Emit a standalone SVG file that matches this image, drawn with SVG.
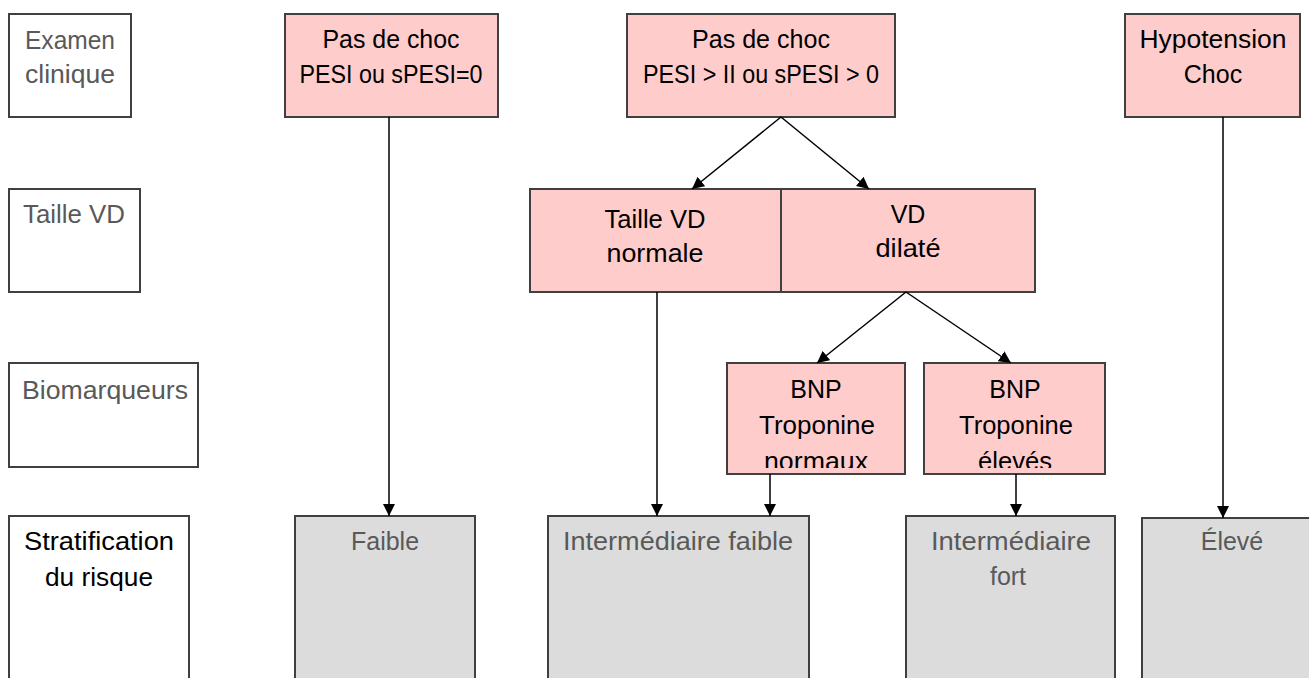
<svg xmlns="http://www.w3.org/2000/svg" width="1309" height="678" viewBox="0 0 1309 678">
<style>
  text { font-family: "Liberation Sans", Arial, sans-serif; font-size: 25px; text-anchor: middle; }
  .lbl rect { fill: #ffffff; stroke: #404040; stroke-width: 2; }
  .pink rect { fill: #ffcccc; stroke: #404040; stroke-width: 2; }
  .grey rect { fill: #dcdcdc; stroke: #404040; stroke-width: 2; }
  .g { fill: #595959; }
  .k { fill: #000000; }
  .conn line { stroke: #000000; stroke-width: 1.5; fill: none; marker-end: url(#arr); }
</style>
<defs>
  <marker id="arr" markerUnits="userSpaceOnUse" markerWidth="12" markerHeight="12" viewBox="0 0 12 12" refX="12" refY="6" orient="auto">
    <path d="M0,0 L12,6 L0,12 z" fill="#000000"/>
  </marker>
  <clipPath id="clipA"><rect x="727" y="363" width="178" height="105"/></clipPath>
  <clipPath id="clipB"><rect x="924" y="363" width="181" height="105"/></clipPath>
</defs>
<rect x="0" y="0" width="1309" height="678" fill="#ffffff"/>

<g id="lbl-examen" class="lbl">
  <rect x="9" y="14" width="122" height="103"/>
  <text x="70" y="49" class="g" textLength="90" lengthAdjust="spacingAndGlyphs">Examen</text>
  <text x="70" y="83" class="g" textLength="90" lengthAdjust="spacingAndGlyphs">clinique</text>
</g>
<g id="lbl-taille" class="lbl">
  <rect x="9" y="189" width="131" height="103"/>
  <text x="74" y="223" class="g" textLength="102" lengthAdjust="spacingAndGlyphs">Taille VD</text>
</g>
<g id="lbl-bio" class="lbl">
  <rect x="9" y="363" width="189" height="104"/>
  <text x="105" y="399" class="g" textLength="166" lengthAdjust="spacingAndGlyphs">Biomarqueurs</text>
</g>
<g id="lbl-strat" class="lbl">
  <rect x="9" y="516" width="180" height="180"/>
  <text x="99" y="550" class="k" textLength="150" lengthAdjust="spacingAndGlyphs">Stratification</text>
  <text x="99" y="586" class="k" textLength="108" lengthAdjust="spacingAndGlyphs">du risque</text>
</g>

<g id="n-pas1" class="pink">
  <rect x="285" y="14" width="213" height="103"/>
  <text x="391" y="48" class="k" textLength="137" lengthAdjust="spacingAndGlyphs">Pas de choc</text>
  <text x="391" y="83" class="k" textLength="183" lengthAdjust="spacingAndGlyphs">PESI ou sPESI=0</text>
</g>
<g id="n-pas2" class="pink">
  <rect x="627" y="14" width="268" height="103"/>
  <text x="761" y="48" class="k" textLength="138" lengthAdjust="spacingAndGlyphs">Pas de choc</text>
  <text x="761" y="83" class="k" textLength="236" lengthAdjust="spacingAndGlyphs">PESI &gt; II ou sPESI &gt; 0</text>
</g>
<g id="n-hypo" class="pink">
  <rect x="1125" y="14" width="175" height="103"/>
  <text x="1213" y="48" class="k" textLength="147" lengthAdjust="spacingAndGlyphs">Hypotension</text>
  <text x="1213" y="83" class="k">Choc</text>
</g>

<g id="n-vdnorm" class="pink">
  <rect x="530" y="189" width="251" height="103"/>
  <text x="655" y="228" class="k" textLength="101" lengthAdjust="spacingAndGlyphs">Taille VD</text>
  <text x="655" y="262" class="k" textLength="97" lengthAdjust="spacingAndGlyphs">normale</text>
</g>
<g id="n-vddil" class="pink">
  <rect x="781" y="189" width="254" height="103"/>
  <text x="908" y="223" class="k">VD</text>
  <text x="908" y="257" class="k" textLength="65" lengthAdjust="spacingAndGlyphs">dilaté</text>
</g>

<g id="n-bnpnorm" class="pink">
  <rect x="727" y="363" width="178" height="111"/>
  <g clip-path="url(#clipA)">
    <text x="816" y="398" class="k">BNP</text>
    <text x="817" y="434" class="k" textLength="116" lengthAdjust="spacingAndGlyphs">Troponine</text>
    <text x="816" y="470" class="k" textLength="104" lengthAdjust="spacingAndGlyphs">normaux</text>
  </g>
</g>
<g id="n-bnpelev" class="pink">
  <rect x="924" y="363" width="181" height="111"/>
  <g clip-path="url(#clipB)">
    <text x="1015" y="398" class="k">BNP</text>
    <text x="1016" y="434" class="k" textLength="114" lengthAdjust="spacingAndGlyphs">Troponine</text>
    <text x="1015" y="470" class="k" textLength="74" lengthAdjust="spacingAndGlyphs">élevés</text>
  </g>
</g>

<g id="r-faible" class="grey">
  <rect x="295" y="516" width="180" height="180"/>
  <text x="385" y="550" class="g">Faible</text>
</g>
<g id="r-intfaible" class="grey">
  <rect x="548" y="516" width="261" height="180"/>
  <text x="678" y="550" class="g" textLength="230" lengthAdjust="spacingAndGlyphs">Intermédiaire faible</text>
</g>
<g id="r-intfort" class="grey">
  <rect x="906" y="516" width="209" height="180"/>
  <text x="1011" y="550" class="g" textLength="160" lengthAdjust="spacingAndGlyphs">Intermédiaire</text>
  <text x="1008" y="585" class="g">fort</text>
</g>
<g id="r-eleve" class="grey">
  <rect x="1142" y="518" width="190" height="180"/>
  <text x="1232" y="550" class="g">Élevé</text>
</g>

<g id="connectors" class="conn">
  <line x1="389" y1="117" x2="389" y2="516"/>
  <line x1="781" y1="117" x2="692" y2="189"/>
  <line x1="781" y1="117" x2="869" y2="189"/>
  <line x1="657" y1="292" x2="657" y2="516"/>
  <line x1="906" y1="292" x2="817" y2="363"/>
  <line x1="906" y1="292" x2="1011" y2="363"/>
  <line x1="770" y1="474" x2="770" y2="516"/>
  <line x1="1016" y1="474" x2="1016" y2="516"/>
  <line x1="1223" y1="117" x2="1223" y2="518"/>
</g>
</svg>
